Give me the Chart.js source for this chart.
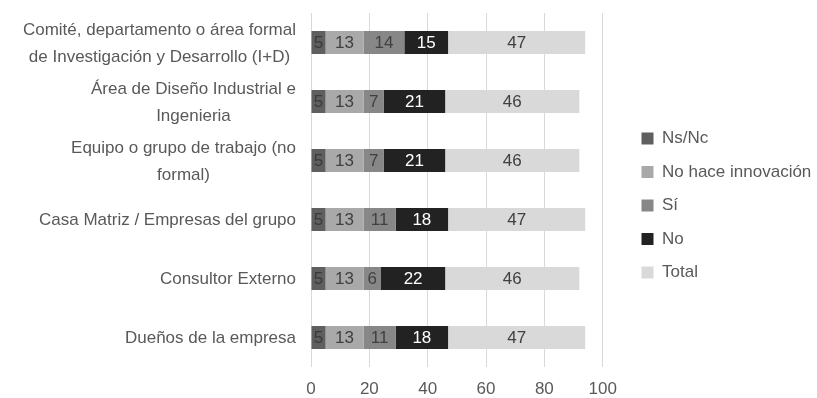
<!DOCTYPE html>
<html>
<head>
<meta charset="utf-8">
<script src="https://cdn.jsdelivr.net/npm/chart.js@4"></script>
<style>
  body { margin: 0; background: #fff; }
  #wrap { width: 817px; height: 398px; }
</style>
</head>
<body>
<div id="wrap"><canvas id="chart"></canvas></div>
<script>
const categorias = [
    ['Comité, departamento o área formal', 'de Investigación y Desarrollo (I+D)'],
    ['Área de Diseño Industrial e', 'Ingenieria'],
    ['Equipo o grupo de trabajo (no', 'formal)'],
    'Casa Matriz / Empresas del grupo',
    'Consultor Externo',
    'Dueños de la empresa'
];
const nsnc = [5, 5, 5, 5, 5, 5];
const noHace = [13, 13, 13, 13, 13, 13];
const si = [14, 7, 7, 11, 6, 11];
const no = [15, 21, 21, 18, 22, 18];
const total = [47, 46, 46, 47, 46, 47];
const ticksX = [0, 20, 40, 60, 80, 100];

const fuente = '"Liberation Sans", Arial, sans-serif';

const series = [
    { label: 'Ns/Nc', data: nsnc, color: '#5f5f5f', text: '#3a3a3a' },
    { label: 'No hace innovación', data: noHace, color: '#a9a9a9', text: '#404040' },
    { label: 'Sí', data: si, color: '#878787', text: '#404040' },
    { label: 'No', data: no, color: '#222222', text: '#ffffff' },
    { label: 'Total', data: total, color: '#d9d9d9', text: '#404040' }
];

const extras = {
    id: 'extras',
    afterLayout(chart) {
        // mover la leyenda un poco a la derecha, como en el original
        const lg = chart.legend;
        const w = lg.width;
        lg.left = 625;
        lg.right = lg.left + w;
    },
    afterDatasetsDraw(chart) {
        const ctx = chart.ctx;
        ctx.save();
        ctx.font = '17px ' + fuente;
        ctx.textAlign = 'center';
        ctx.textBaseline = 'middle';
        // valores dentro de cada barra
        chart.data.datasets.forEach((ds, i) => {
            chart.getDatasetMeta(i).data.forEach((bar, j) => {
                const p = bar.getProps(['x', 'y', 'base'], true);
                ctx.fillStyle = series[i].text;
                ctx.fillText(ds.data[j], (p.x + p.base) / 2, p.y + 1);
            });
        });
        // categorias: cada bloque alineado a la derecha, lineas centradas entre si
        const y = chart.scales.y;
        const derecha = chart.chartArea.left - 15;
        ctx.fillStyle = '#595959';
        categorias.forEach((cat, i) => {
            const lineas = Array.isArray(cat) ? cat : [cat];
            const ancho = Math.max(...lineas.map(l => ctx.measureText(l).width));
            const cx = derecha - ancho / 2;
            const cy = y.getPixelForTick(i);
            const alto = 27;
            lineas.forEach((l, k) => {
                ctx.fillText(l, cx, cy + (k - (lineas.length - 1) / 2) * alto + 1);
            });
        });
        ctx.restore();
    }
};

const ctx = document.getElementById('chart').getContext('2d');
new Chart(ctx, {
    type: 'bar',
    data: {
        labels: categorias,
        datasets: series.map(s => ({
            label: s.label,
            data: s.data,
            backgroundColor: s.color,
            barPercentage: 0.39,
            categoryPercentage: 1
        }))
    },
    options: {
        indexAxis: 'y',
        responsive: true,
        maintainAspectRatio: false,
        animation: false,
        layout: { padding: { top: 13, right: 18, bottom: 0, left: 0 } },
        plugins: {
            tooltip: { enabled: false },
            legend: {
                position: 'right',
                labels: {
                    boxWidth: 12,
                    boxHeight: 12,
                    padding: 16.5,
                    color: '#595959',
                    font: { size: 17, family: fuente }
                }
            }
        },
        scales: {
            x: {
                stacked: true,
                min: 0,
                max: 100,
                afterBuildTicks: axis => { axis.ticks = ticksX.map(v => ({ value: v })); },
                afterFit: axis => { axis.height = 31; },
                grid: { color: '#d9d9d9', drawTicks: false },
                border: { display: false },
                ticks: {
                    padding: 14,
                    color: '#595959',
                    font: { size: 17, lineHeight: 1, family: fuente }
                }
            },
            y: {
                stacked: true,
                afterFit: axis => {
                    axis.width = 311;
                    axis.paddingTop = 0;
                    axis.paddingBottom = 0;
                },
                grid: { display: false },
                border: { display: false },
                ticks: { display: false }
            }
        }
    },
    plugins: [extras]
});
</script>
</body>
</html>
